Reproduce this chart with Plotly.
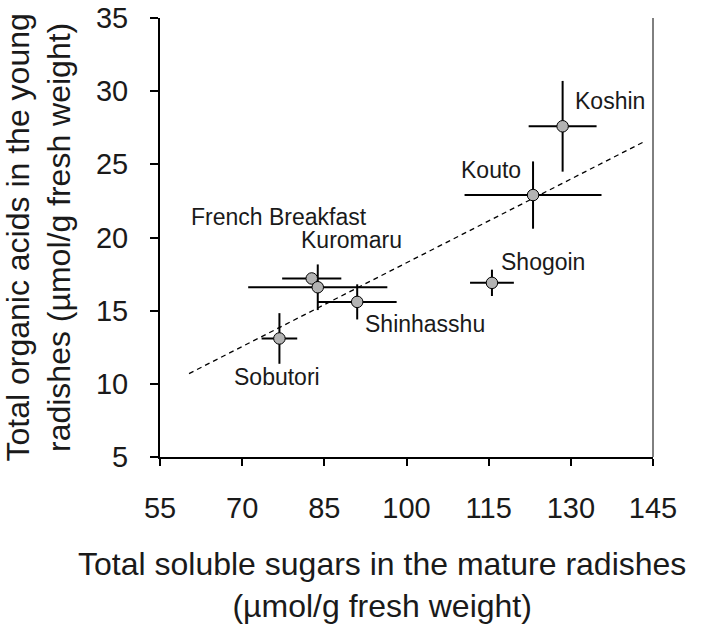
import plotly.graph_objects as go

# Data
cultivars = ["French Breakfast", "Kuromaru", "Shinhasshu", "Sobutori", "Koshin", "Kouto", "Shogoin"]
sugars = [82.7, 83.8, 91.0, 76.8, 128.5, 123.1, 115.6]          # x: total soluble sugars
sugars_err = [5.4, 12.7, 7.2, 3.25, 6.2, 12.5, 4.0]
acids = [17.2, 16.6, 15.6, 13.1, 27.6, 22.9, 16.9]              # y: total organic acids
acids_err = [0.3, 1.56, 1.2, 1.73, 3.1, 2.3, 0.9]

# Label positions (data coordinates)
label_x = [76.7, 90.0, 103.4, 76.4, 137.1, 115.4, 124.9]
label_y = [21.4, 19.8, 14.1, 10.5, 29.3, 24.6, 18.3]

# Regression (dashed) line end points
trend_x = [60.3, 143.4]
trend_y = [10.7, 26.55]

x_ticks = [55, 70, 85, 100, 115, 130, 145]
y_ticks = [5, 10, 15, 20, 25, 30, 35]

FONT = "Liberation Sans"
TXT = "#1a1a1a"

fig = go.Figure()

fig.add_trace(go.Scatter(
    x=trend_x, y=trend_y, mode="lines",
    line=dict(color="black", width=1.3, dash="5px,4px"),
    showlegend=False, hoverinfo="skip"))

fig.add_trace(go.Scatter(
    x=sugars, y=acids, mode="markers",
    marker=dict(size=11.5, color="#b3b3b3", line=dict(color="black", width=1)),
    error_x=dict(type="data", array=sugars_err, color="black", thickness=2, width=0),
    error_y=dict(type="data", array=acids_err, color="black", thickness=2, width=0),
    showlegend=False))

annotations = []
for name, lx, ly in zip(cultivars, label_x, label_y):
    annotations.append(dict(x=lx, y=ly, xref="x", yref="y", text=name, showarrow=False,
                            xanchor="center", yanchor="middle",
                            font=dict(family=FONT, size=23, color=TXT)))

annotations.append(dict(
    x=(382 - 160) / 493, y=-0.2916, xref="paper", yref="paper",
    text="Total soluble sugars in the mature radishes<br>(µmol/g fresh weight)",
    showarrow=False, xanchor="center", yanchor="middle",
    font=dict(family=FONT, size=32, color=TXT)))

annotations.append(dict(
    x=(38 - 160) / 493, y=0.5, xref="paper", yref="paper",
    text="Total organic acids in the young<br>radishes (µmol/g fresh weight)",
    showarrow=False, xanchor="center", yanchor="middle", textangle=-90,
    font=dict(family=FONT, size=32, color=TXT)))

fig.update_layout(
    width=711, height=624,
    margin=dict(l=160, r=58, t=18, b=167, autoexpand=False),
    paper_bgcolor="white", plot_bgcolor="white",
    annotations=annotations,
    shapes=[dict(type="line", xref="paper", yref="paper", x0=1, x1=1, y0=0, y1=1,
                 line=dict(color="black", width=1))],
    xaxis=dict(range=[55, 145], tickmode="array", tickvals=x_ticks,
               ticks="outside", ticklen=7, tickwidth=1.5, tickcolor="black",
               showline=True, linecolor="black", linewidth=2, automargin=False,
               showgrid=False, zeroline=False, ticklabelstandoff=17,
               tickfont=dict(family=FONT, size=29, color=TXT)),
    yaxis=dict(range=[5, 35], tickmode="array", tickvals=y_ticks,
               ticks="outside", ticklen=8, tickwidth=1.5, tickcolor="black",
               showline=True, linecolor="black", linewidth=2, automargin=False,
               showgrid=False, zeroline=False, ticklabelstandoff=16,
               tickfont=dict(family=FONT, size=29, color=TXT)),
)

fig.write_html("out.html", config={"displayModeBar": False},
               post_script="document.body.style.margin='0';document.body.style.padding='0';document.documentElement.style.overflow='hidden';")
